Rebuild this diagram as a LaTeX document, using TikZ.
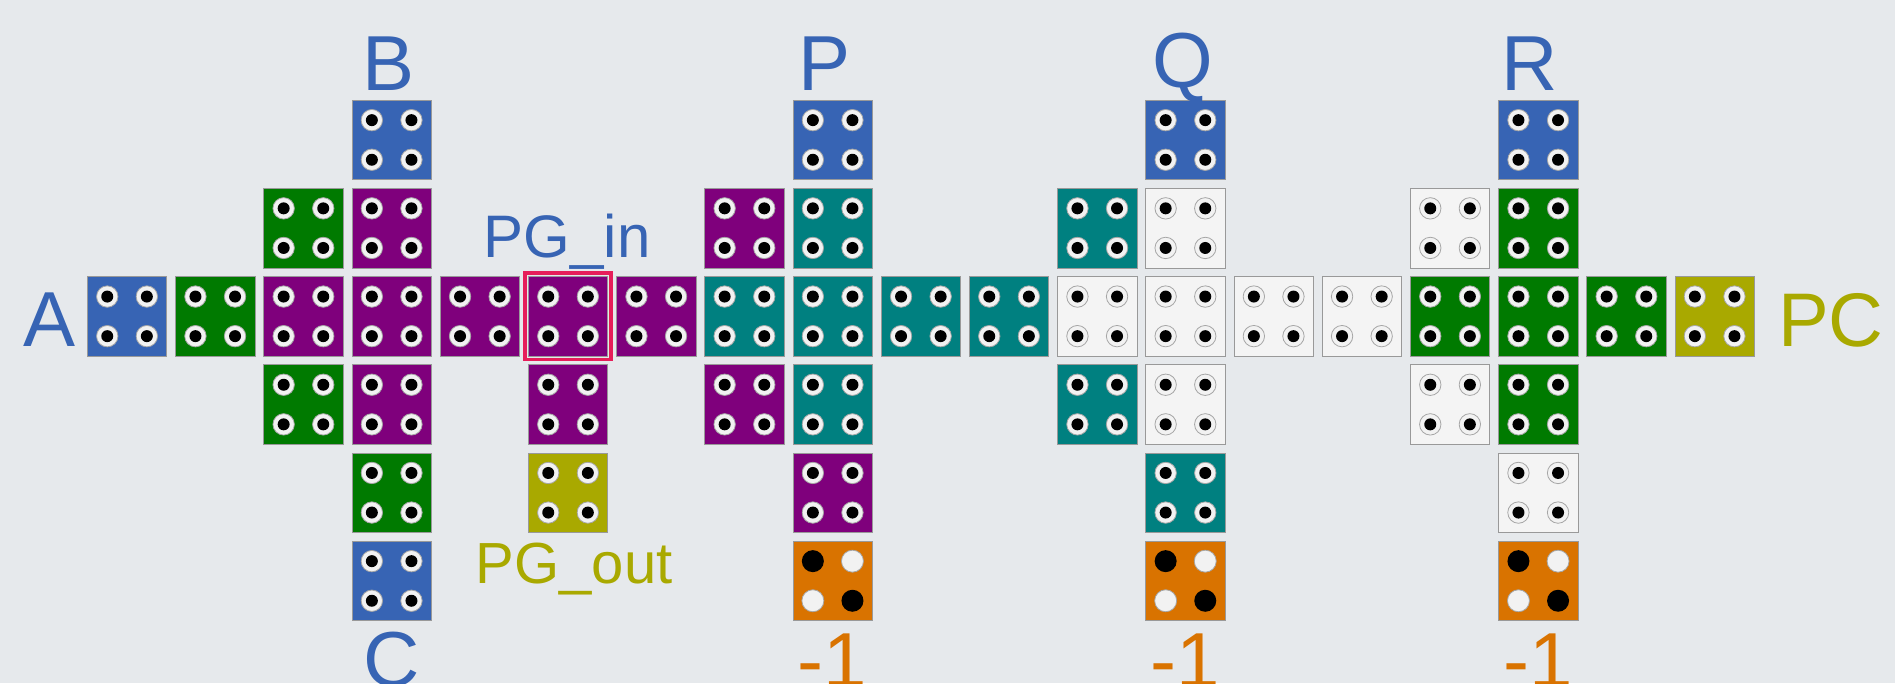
\documentclass[tikz,border=0pt]{standalone}
\usepackage{fontspec}
\setmainfont{Liberation Sans}
\usetikzlibrary{fit}
\definecolor{cbg}{HTML}{E6E9EC}
\definecolor{cblue}{HTML}{3764B4}
\definecolor{cgreen}{HTML}{007A00}
\definecolor{cpurple}{HTML}{7F007C}
\definecolor{cteal}{HTML}{008080}
\definecolor{colive}{HTML}{A9A900}
\definecolor{corange}{HTML}{D97300}
\definecolor{cwhite}{HTML}{F4F4F4}
\definecolor{chl}{HTML}{E61E5A}
\tikzset{
  blk/.style={rectangle, minimum size=79.5pt, inner sep=0pt, draw=black!40, line width=0.8pt},
  pblue/.style={blk, fill=cblue},
  pgreen/.style={blk, fill=cgreen},
  ppurple/.style={blk, fill=cpurple},
  pteal/.style={blk, fill=cteal},
  polive/.style={blk, fill=colive},
  pwhite/.style={blk, fill=cwhite, draw=black!40},
  porange/.style={blk, fill=corange},
  ring/.style={fill=white!95!black, draw=black!35, line width=0.8pt},
  pin/.style={fill=black},
  lbl/.style={inner sep=0pt, anchor=base, font=\fontsize{78}{80}\selectfont},
  hlbox/.style={draw=chl, line width=3.5pt, inner sep=3pt}
}
\begin{document}
\begin{tikzpicture}[x=1pt,y=-1pt]
\useasboundingbox (0,0) rectangle (1895,683);
\fill[cbg] (0,0) rectangle (1895,683);
\begin{scope}
\clip (0,0) rectangle (1895,683);
% ordinary blocks
\foreach \c/\r/\st in {
  0/2/pblue, 1/2/pgreen,
  2/1/pgreen, 2/2/ppurple, 2/3/pgreen,
  3/0/pblue, 3/1/ppurple, 3/2/ppurple, 3/3/ppurple, 3/4/pgreen, 3/5/pblue,
  4/2/ppurple,
  5/2/ppurple, 5/3/ppurple, 5/4/polive,
  6/2/ppurple,
  7/1/ppurple, 7/2/pteal, 7/3/ppurple,
  8/0/pblue, 8/1/pteal, 8/2/pteal, 8/3/pteal, 8/4/ppurple,
  9/2/pteal, 10/2/pteal,
  11/1/pteal, 11/2/pwhite, 11/3/pteal,
  12/0/pblue, 12/1/pwhite, 12/2/pwhite, 12/3/pwhite, 12/4/pteal,
  13/2/pwhite, 14/2/pwhite,
  15/1/pwhite, 15/2/pgreen, 15/3/pwhite,
  16/0/pblue, 16/1/pgreen, 16/2/pgreen, 16/3/pgreen, 16/4/pwhite,
  17/2/pgreen, 18/2/polive}{
  \node[\st] (b\c-\r) at ({127.05+88.2*\c},{139.95+88.2*\r}) {};
  \foreach \dx/\dy in {-1/-1,1/-1,-1/1,1/1}{
    \filldraw[ring] ([shift={(\dx*19.8,\dy*19.8)}]b\c-\r.center) circle (10.7pt);
    \fill[pin] ([shift={(\dx*19.8,\dy*19.8)}]b\c-\r.center) circle (6pt);
  }
}
% -1 blocks
\foreach \c in {8,12,16}{
  \node[porange] (b\c-5) at ({127.05+88.2*\c},{139.95+88.2*5}) {};
  \fill[pin] ([shift={(-19.8,-19.8)}]b\c-5.center) circle (11pt);
  \fill[pin] ([shift={(19.8,19.8)}]b\c-5.center) circle (11pt);
  \filldraw[ring] ([shift={(19.8,-19.8)}]b\c-5.center) circle (11pt);
  \filldraw[ring] ([shift={(-19.8,19.8)}]b\c-5.center) circle (11pt);
  \node[lbl, text=corange] (m\c) at ({127.05+88.2*\c},687.5) {-1};
}
% highlight
\node[hlbox, fit=(b5-2)] (hl) {};
% labels
\node[lbl, text=cblue] (lA) at (49.8,346.3) {A};
\node[lbl, text=cblue] (lB) at (389,90.6) {B};
\node[lbl, text=cblue] (lC) at (392,686) {C};
\node[lbl, text=cblue] (lP) at (825,90.6) {P};
\node[lbl, text=cblue] (lQ) at (1183,87.5) {Q};
\node[lbl, text=cblue] (lR) at (1530,90.6) {R};
\node[lbl, text=colive, anchor=base west, font=\fontsize{76}{78}\selectfont] (lPC) at (1778,346.3) {PC};
\node[lbl, text=cblue, anchor=base west, font=\fontsize{60}{62}\selectfont] (lPGin) at (483.5,257) {PG\_in};
\node[lbl, text=colive, anchor=base west, font=\fontsize{58}{60}\selectfont] (lPGout) at (475.5,583.6) {PG\_out};
\end{scope}
\end{tikzpicture}
\end{document}
